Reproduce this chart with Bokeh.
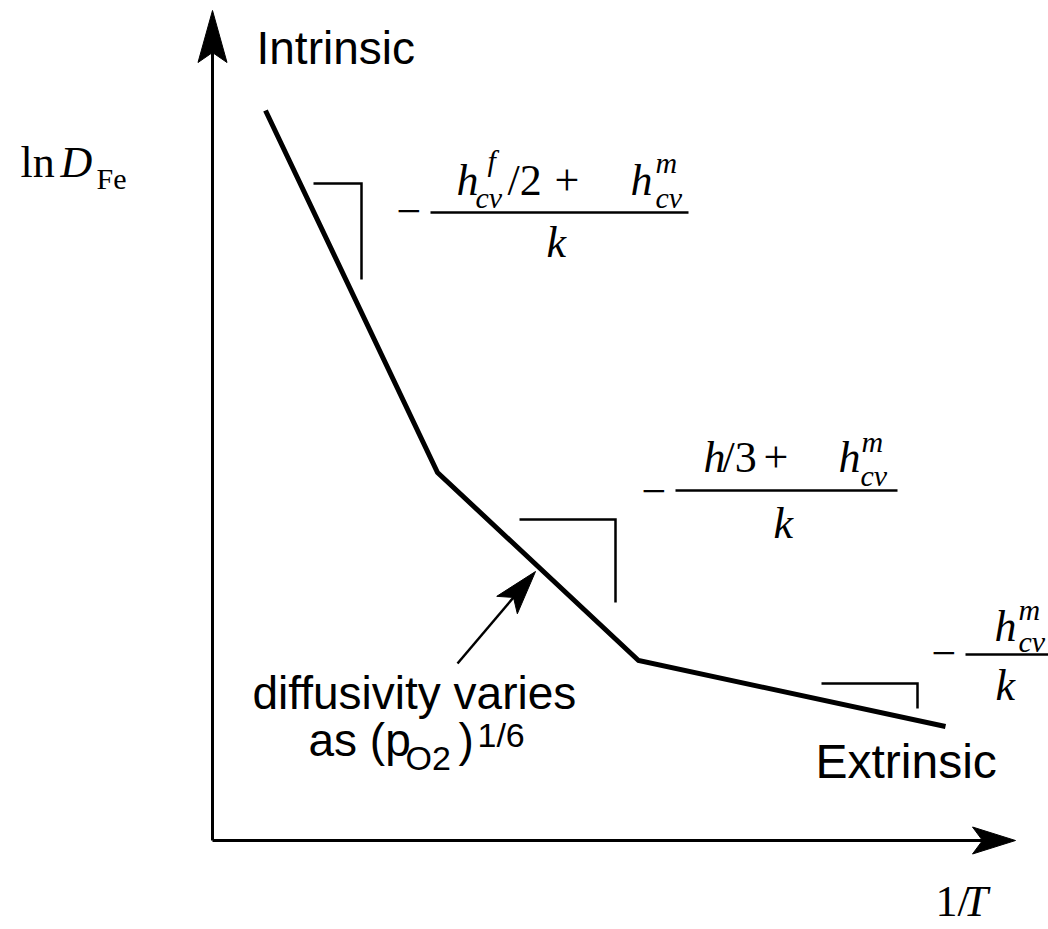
from bokeh.plotting import figure
from bokeh.models import Range1d
from bokeh.core.properties import value
from bokeh.embed import file_html
from bokeh.resources import INLINE
import numpy as np

W, H = 1048, 929

# Schematic Arrhenius plot of iron diffusivity: ln D_Fe against 1/T (arbitrary units)
inv_T = [265, 437, 638, 945]
ln_D = [819, 457, 269, 203]

# Axes: origin and arrow-tip positions
axis_x0, axis_y0 = 212, 89
x_axis_tip = 1015
y_axis_tip = 919

# Slope markers for each regime: left x, right x, top y, bottom y
slope_left = [313, 519, 821]
slope_right = [361, 615, 917]
slope_top = [746, 410, 246]
slope_bottom = [650, 327, 221]

# Pointer to the middle (oxygen-pressure dependent) regime
pointer_tail = (457, 266)
pointer_tip = (535, 358)

SANS = "Liberation Sans"
SERIF = "Liberation Serif"

p = figure(width=W, height=H, x_range=Range1d(0, W), y_range=Range1d(0, H),
           output_backend="svg", toolbar_location=None, min_border=0,
           background_fill_color="white", border_fill_color="white")
p.axis.visible = False
p.grid.visible = False
p.outline_line_color = None


def stealth_head(tip, tail, length, half_w, notch):
    tx, ty = tip
    d = np.array([tx - tail[0], ty - tail[1]], dtype=float)
    u = d / np.hypot(*d)
    n = np.array([-u[1], u[0]])
    base = np.array([tx, ty]) - u * length
    back = np.array([tx, ty]) - u * (length - notch)
    pts = [np.array([tx, ty]), base + n * half_w, back, base - n * half_w]
    p.patch([q[0] for q in pts], [q[1] for q in pts], fill_color="black",
            line_color="black", line_width=1)


def put(x, y, s, size, font=SERIF, style="normal"):
    # the svg text baseline sits about a third of an em low; lift it back
    p.text(x=[x], y=[y + 0.34 * size], text=[s], text_font=value(font),
           text_font_size=value(f"{size}px"), text_font_style=value(style),
           text_align="left", text_baseline="alphabetic", text_color="black")


# axes with arrow heads
p.line([axis_x0, axis_x0], [axis_y0, y_axis_tip - 30], line_width=3, color="black")
p.line([axis_x0, x_axis_tip - 30], [axis_y0, axis_y0], line_width=3, color="black")
stealth_head((axis_x0, y_axis_tip), (axis_x0, axis_y0), 52, 14.5, 10)
stealth_head((x_axis_tip, axis_y0), (axis_x0, axis_y0), 43, 13.5, 10)

# diffusivity curve
p.line(inv_T, ln_D, line_width=5, color="black", line_join="miter")

# slope markers
for xl, xr, yt, yb in zip(slope_left, slope_right, slope_top, slope_bottom):
    p.line([xl, xr, xr], [yt, yt, yb], line_width=2.5, color="black",
           line_join="miter")

# pointer arrow
d = np.array(pointer_tip) - np.array(pointer_tail)
u = d / np.hypot(*d)
shaft_end = np.array(pointer_tip) - u * 30
p.line([pointer_tail[0], shaft_end[0]], [pointer_tail[1], shaft_end[1]],
       line_width=2.5, color="black")
stealth_head(pointer_tip, pointer_tail, 44, 13.5, 10)

# axis titles
put(20, 752, "ln", 44)
put(60, 752, "D", 44, style="italic")
put(96, 741, "Fe", 30)
put(935, 13, "1/", 44)
put(963, 13, "T", 44, style="italic")

# regime labels
put(256, 866, "Intrinsic", 46, font=SANS)
put(815, 152, "Extrinsic", 48, font=SANS)
put(252, 221, "diffusivity varies", 46, font=SANS)
put(308, 174, "as (p", 46, font=SANS)
put(405, 160, "O2", 34, font=SANS)
put(458, 174, ")", 46, font=SANS)
put(477, 183, "1/6", 34, font=SANS)

# intrinsic slope: -(h_cv^f/2 + h_cv^m)/k
put(396, 703, "\u2212", 44)
put(456, 734, "h", 44, style="italic")
put(487, 759, "f", 30, style="italic")
put(475, 722, "cv", 30, style="italic")
put(507, 734, "/2", 44)
put(554, 734, "+", 44)
put(630, 734, "h", 44, style="italic")
put(655, 757, "m", 30, style="italic")
put(655, 722, "cv", 30, style="italic")
p.line([430, 688], [717, 717], line_width=2.5, color="black")
put(546, 672, "k", 44, style="italic")

# middle slope: -(h/3 + h_cv^m)/k
put(641, 423, "\u2212", 44)
put(703, 457, "h", 44, style="italic")
put(722, 457, "/3", 44)
put(763, 457, "+", 44)
put(838, 457, "h", 44, style="italic")
put(861, 478, "m", 30, style="italic")
put(860, 444, "cv", 30, style="italic")
p.line([675, 897], [439, 439], line_width=2.5, color="black")
put(773, 391, "k", 44, style="italic")

# extrinsic slope: -h_cv^m/k
put(931, 261, "\u2212", 44)
put(994, 288, "h", 44, style="italic")
put(1018, 310, "m", 30, style="italic")
put(1018, 278, "cv", 30, style="italic")
p.line([965, 1060], [275, 275], line_width=2.5, color="black")
put(995, 229, "k", 44, style="italic")

open("out.html", "w").write(file_html(p, INLINE))
